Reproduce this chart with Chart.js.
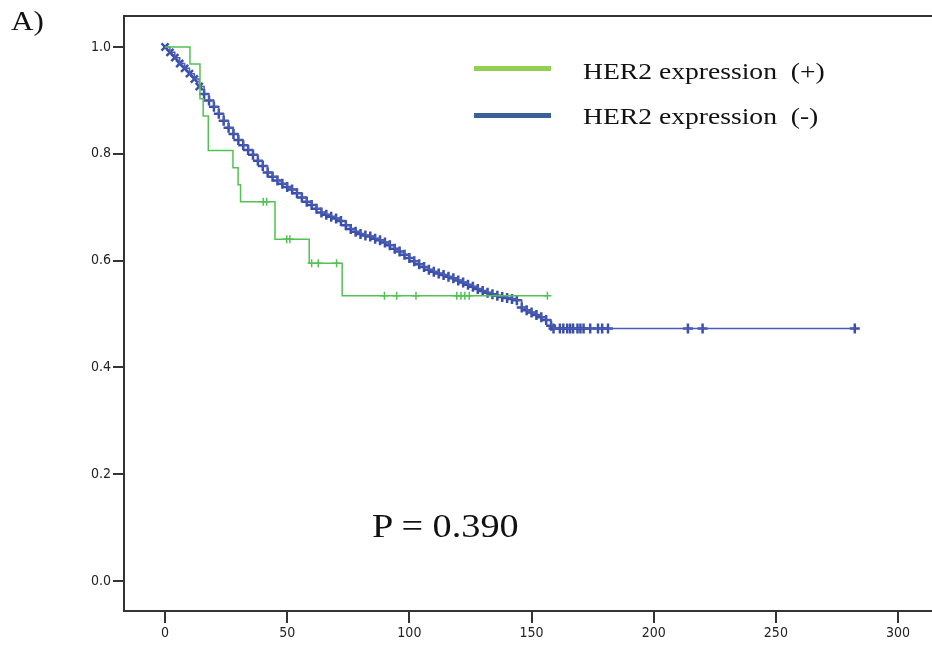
<!DOCTYPE html>
<html>
<head>
<meta charset="utf-8">
<script src="https://cdn.jsdelivr.net/npm/chart.js@4/dist/chart.umd.min.js"></script>
<style>
  html, body { margin: 0; padding: 0; background: #fff; }
  #wrap { position: relative; width: 932px; height: 646px; }
  #chart { position: absolute; left: 0; top: 0; }
  .serif { position: absolute; font-family: "Liberation Serif", "Times New Roman", serif; color: #111;
           white-space: pre; transform-origin: 0 0; }
  .swatch { position: absolute; height: 5px; }
</style>
</head>
<body>
<div id="wrap">
  <canvas id="chart" width="932" height="646"></canvas>
  <div class="serif" style="left:11px; top:6px; font-size:27px; transform:scaleX(1.15);">A)</div>
  <div class="swatch" style="left:474px; top:66px; width:77px; background:#92d050;"></div>
  <div class="swatch" style="left:474px; top:113px; width:77px; background:#3a6096;"></div>
  <div class="serif" style="left:583px; top:59px; font-size:23px; transform:scaleX(1.2);">HER2 expression  (+)</div>
  <div class="serif" style="left:583px; top:104px; font-size:23px; transform:scaleX(1.2);">HER2 expression  (-)</div>
  <div class="serif" style="left:372px; top:508px; font-size:33px; transform:scaleX(1.16);">P = 0.390</div>
</div>
<script>
// Tick labels
const xTickValues = [0, 50, 100, 150, 200, 250, 300];
const yTickValues = [0, 0.2, 0.4, 0.6, 0.8, 1.0];

// HER2 (-) survival curve (every 2 months)
const blueTimes = [0, 2, 4, 6, 8, 10, 12, 14, 16, 18, 20, 22, 24, 26, 28, 30, 32, 34, 36, 38,
    40, 42, 44, 46, 48, 50, 52, 54, 56, 58, 60, 62, 64, 66, 68, 70, 72, 74, 76, 78,
    80, 82, 84, 86, 88, 90, 92, 94, 96, 98, 100, 102, 104, 106, 108, 110, 112, 114, 116, 118,
    120, 122, 124, 126, 128, 130, 132, 134, 136, 138, 140, 142, 144, 146, 148, 150, 152, 154, 156, 158, 159];
const blueSurv = [1.000, 0.990, 0.980, 0.969, 0.960, 0.950, 0.940, 0.926, 0.912, 0.900,
    0.888, 0.875, 0.862, 0.849, 0.837, 0.826, 0.816, 0.807, 0.798, 0.787,
    0.777, 0.765, 0.757, 0.750, 0.744, 0.738, 0.733, 0.726, 0.718, 0.710,
    0.704, 0.697, 0.690, 0.686, 0.682, 0.679, 0.674, 0.666, 0.659, 0.654,
    0.650, 0.647, 0.645, 0.641, 0.638, 0.634, 0.629, 0.622, 0.617, 0.611,
    0.605, 0.599, 0.593, 0.588, 0.583, 0.579, 0.576, 0.573, 0.570, 0.567,
    0.563, 0.559, 0.555, 0.551, 0.547, 0.543, 0.540, 0.537, 0.534, 0.532,
    0.530, 0.528, 0.526, 0.512, 0.507, 0.503, 0.498, 0.494, 0.489, 0.478, 0.473];
// censored cases on the flat tail
const blueTailCensor = [161.6, 163, 164.6, 165.8, 167, 168.8, 170, 171.3, 174,
    177.2, 178.9, 181.3, 214, 220, 282.3];

// HER2 (+) survival curve
const greenTimes = [0, 10.2, 14.3, 15.6, 17.7, 27.8, 29.9, 30.9, 45, 59, 72.5, 156.5];
const greenSurv = [1.000, 0.968, 0.903, 0.871, 0.806, 0.774, 0.742, 0.710, 0.640, 0.595, 0.534, 0.534];
const greenCensor = [40.2, 41.6, 49.8, 51.1, 60, 62.7, 70.2, 89.8, 94.8, 102.7,
    119.4, 121.1, 122.7, 124.5, 156.5];

const BLUE_LINE = '#4a5db6';
const BLUE_MARK = '#3b4fa8';
const GREEN = '#52c252';
const AXIS = '#333';

/**
 * Value of a step curve at time t
 */
function survAt(times, surv, t) {
    let s = surv[0];
    for (let i = 0; i < times.length; i++) {
        if (times[i] <= t) s = surv[i];
    }
    return s;
}

const blueLast = blueSurv[blueSurv.length - 1];
const blueLine = blueTimes.map((t, i) => ({ x: t, y: blueSurv[i] }))
    .concat([{ x: blueTailCensor[blueTailCensor.length - 1], y: blueLast }]);
const blueMarks = blueTimes.map((t, i) => ({ x: t, y: blueSurv[i] }))
    .concat(blueTailCensor.map(t => ({ x: t, y: blueLast })));
const greenLine = greenTimes.map((t, i) => ({ x: t, y: greenSurv[i] }));
const greenMarks = greenCensor.map(t => ({ x: t, y: survAt(greenTimes, greenSurv, t) }));

// top frame line
const topFrame = {
    id: 'topFrame',
    afterDraw(chart) {
        const { ctx, chartArea } = chart;
        ctx.save();
        ctx.strokeStyle = AXIS;
        ctx.lineWidth = 2;
        ctx.beginPath();
        ctx.moveTo(chartArea.left - 1, chartArea.top);
        ctx.lineTo(chartArea.right, chartArea.top);
        ctx.stroke();
        ctx.restore();
    }
};

const tickFont = { family: '"DejaVu Sans Condensed", "DejaVu Sans", sans-serif', size: 14 };

new Chart(document.getElementById('chart'), {
    type: 'line',
    data: {
        datasets: [
            { data: greenLine, borderColor: GREEN, borderWidth: 1.5, stepped: true, pointRadius: 0, fill: false },
            { data: greenMarks, showLine: false, pointStyle: 'cross', pointRadius: 4,
              pointBorderWidth: 1.5, borderColor: GREEN, backgroundColor: GREEN },
            { data: blueLine, borderColor: BLUE_LINE, borderWidth: 1.5, stepped: true, pointRadius: 0, fill: false },
            { data: blueMarks, showLine: false,
              // early marks look like small x's in the original
              pointStyle: ctx => (ctx.raw && ctx.raw.x < 16 ? 'crossRot' : 'cross'),
              pointRadius: 5, pointBorderWidth: 2.5, borderColor: BLUE_MARK, backgroundColor: BLUE_MARK }
        ]
    },
    options: {
        responsive: false,
        animation: false,
        layout: { autoPadding: false, padding: { top: 16, left: 0, right: 0, bottom: 0 } },
        plugins: { legend: { display: false }, tooltip: { enabled: false } },
        scales: {
            x: {
                type: 'linear',
                min: -16.8,
                max: 313.9,
                afterBuildTicks: scale => { scale.ticks = xTickValues.map(v => ({ value: v })); },
                afterFit: scale => { scale.height = 35; },
                ticks: { color: '#222', font: tickFont, padding: 2, maxRotation: 0 },
                grid: { drawOnChartArea: false, tickLength: 12, color: AXIS, lineWidth: 2 },
                border: { color: AXIS, width: 2 }
            },
            y: {
                type: 'linear',
                min: -0.056,
                max: 1.058,
                afterBuildTicks: scale => { scale.ticks = yTickValues.map(v => ({ value: v })); },
                afterFit: scale => { scale.width = 124; },
                ticks: { color: '#222', font: tickFont, padding: 2, callback: v => v.toFixed(1) },
                grid: { drawOnChartArea: false, tickLength: 11, color: AXIS, lineWidth: 2 },
                border: { color: AXIS, width: 2 }
            }
        }
    },
    plugins: [topFrame]
});
</script>
</body>
</html>
